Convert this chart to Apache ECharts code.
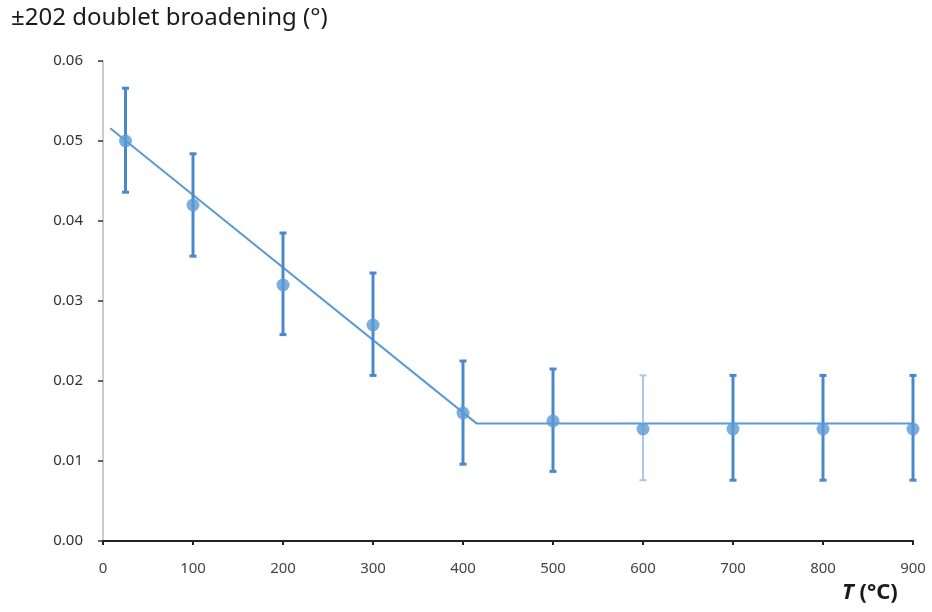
<!DOCTYPE html>
<html><head><meta charset="utf-8">
<script src="https://cdn.jsdelivr.net/npm/echarts@6/dist/echarts.min.js"></script>
<style>html,body{margin:0;padding:0;background:#fff}#c{width:932px;height:612px}</style>
</head><body><div id="c"></div>
<script>
var xVals = [25, 100, 200, 300, 400, 500, 600, 700, 800, 900];
var yVals = [0.050, 0.042, 0.032, 0.027, 0.016, 0.015, 0.014, 0.014, 0.014, 0.014];
var errUpper = [0.0566, 0.0484, 0.0385, 0.0335, 0.0225, 0.0215, 0.0207, 0.0207, 0.0207, 0.0207];
var errLower = [0.0436, 0.0356, 0.0258, 0.0207, 0.0096, 0.0087, 0.0076, 0.0076, 0.0076, 0.0076];
var trendX = [8, 415, 912];
var trendY = [0.0516, 0.0147, 0.0147];
var yTicks = ['0.00','0.01','0.02','0.03','0.04','0.05','0.06'];
var xTicks = ['0','100','200','300','400','500','600','700','800','900'];

var chart = echarts.init(document.getElementById('c'), null, {renderer:'canvas'});
var pts = xVals.map(function(x,i){return [x,yVals[i]];});
var errs = xVals.map(function(x,i){return [x,errLower[i],errUpper[i]];});
var trend = trendX.map(function(x,i){return [x,trendY[i]];});
var font = 'Noto Sans';
chart.setOption({
  animation:false,
  grid:{left:103,right:19,top:61,bottom:71},
  graphic:[
    {type:'text',left:11,top:6,style:{text:'\u00b1202 doublet broadening (\u00b0)',font:'24px "Noto Sans"',fill:'#1a1a1a'}},
    {type:'text',left:842,top:582,style:{text:'{i|T} (\u00b0C)',font:'bold 22px "Noto Sans"',fill:'#1a1a1a',rich:{i:{fontStyle:'italic',fontWeight:'bold',fontSize:22,fontFamily:font,fill:'#1a1a1a'}}}}
  ],
  xAxis:{type:'value',min:0,max:900,interval:100,
    axisLine:{lineStyle:{color:'#222',width:2}},
    axisTick:{show:true,length:4,lineStyle:{color:'#222',width:2}},
    axisLabel:{margin:20,color:'#444',fontFamily:font,fontSize:15,formatter:function(v){return xTicks[Math.round(v/100)];}},
    splitLine:{show:false}},
  yAxis:{type:'value',min:0,max:0.06,interval:0.01,
    axisLine:{show:true,lineStyle:{color:'#bbb',width:1.5}},
    axisTick:{show:true,length:5,lineStyle:{color:'#333',width:1.5}},
    axisLabel:{margin:20,color:'#333',fontFamily:font,fontSize:15,formatter:function(v){return yTicks[Math.round(v*100)];}},
    splitLine:{show:false}},
  series:[
    {type:'line',data:trend,showSymbol:false,symbol:'none',lineStyle:{color:'#5b9bd5',width:2},z:2},
    {type:'custom',data:errs,z:3,renderItem:function(params,api){
      var x=api.value(0);
      var lo=api.coord([x,api.value(1)]);
      var hi=api.coord([x,api.value(2)]);
      var c = params.dataIndex===6 ? '#a9c8ea' : '#4a88cc';
      var w = params.dataIndex===6 ? 2 : 3;
      var st={stroke:c,lineWidth:w};
      return {type:'group',children:[
        {type:'line',shape:{x1:lo[0],y1:lo[1],x2:hi[0],y2:hi[1]},style:st},
        {type:'line',shape:{x1:lo[0]-3.5,y1:lo[1],x2:lo[0]+3.5,y2:lo[1]},style:st},
        {type:'line',shape:{x1:hi[0]-3.5,y1:hi[1],x2:hi[0]+3.5,y2:hi[1]},style:st}
      ]};
    }},
    {type:'scatter',data:pts,symbol:'circle',symbolSize:13,itemStyle:{color:'#5b9bd5'},z:4}
  ]
});
</script></body></html>
